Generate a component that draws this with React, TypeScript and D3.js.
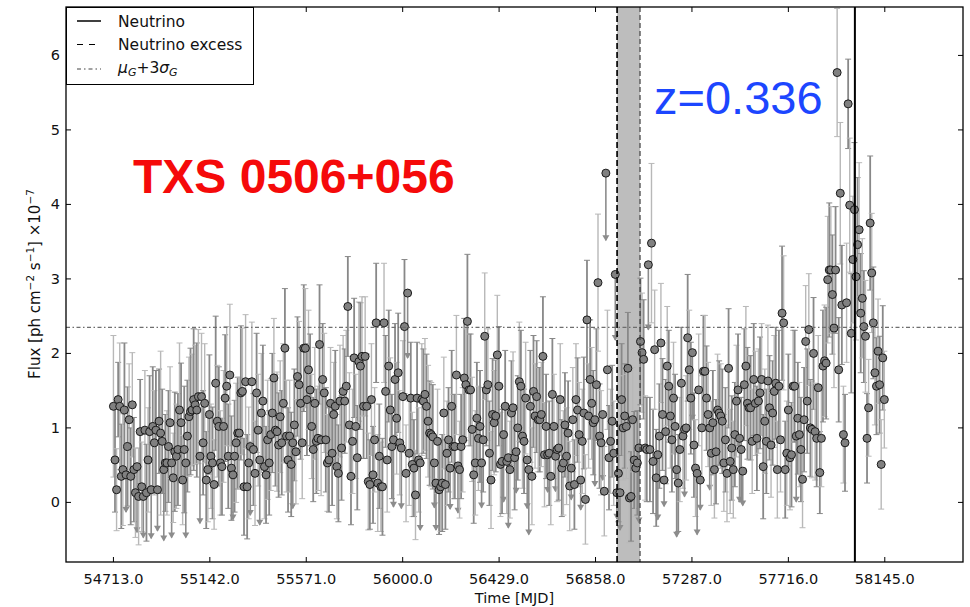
import React from "react";
import * as d3 from "d3";

const W = 970;
const H = 607;
const frame = { left: 66, right: 963, top: 7, bottom: 562 };

// weekly Fermi-LAT bins, first bin centre at MJD 54713
const startMJD = 54713;
const binDays = 7;

// flux in units of 1e-7 ph cm^-2 s^-1, one value per weekly bin
const flux = [
  1.29, 0.57, 0.17, 1.38, 1.29, 0.35, 0.44, 1.24, 0.37, 0.75, 1.11, 0.35, 1.31, 0.44, 0.13, 0.48, 0.08, 0.95, 0.21, 0.08,
  0.97, 0.13, 0.57, 0.95, 0.17, 1.02, 0.8, 0.97, 0.17, 1.09, 0.93, 0.82, 0.44, 0.53, 0.53, 0.75, 1.07, 0.53, 0.33, 0.68,
  0.62, 0.71, 1.24, 1.07, 0.3, 0.71, 0.53, 0.89, 1.15, 1.22, 1.24, 1.38, 1.31, 1.24, 1.42, 0.62, 1.42, 0.8, 1.33, 0.3,
  0.44, 1.18, 0.62, 0.53, 0.24, 1.6, 1.09, 1.02, 0.53, 0.48, 1.02, 1.4, 1.56, 0.62, 1.71, 0.46, 0.37, 0.62, 0.8, 0.93,
  0.93, 1.47, 1.49, 0.21, 1.62, 0.21, 0.53, 0.75, 1.62, 0.71, 0.39, 1.47, 0.97, 0.57, 1.2, 1.36, 0.48, 0.37, 0.84, 0.53,
  0.91, 1.2, 1.67, 0.97, 0.95, 0.77, 1.15, 0.8, 1.33, 2.07, 0.89, 0.57, 0.89, 0.51, 0.8, 1.04, 0.68, 1.69, 1.58, 1.33,
  0.8, 2.07, 2.07, 1.38, 1.78, 1.51, 1.02, 0.71, 1.33, 0.82, 0.86, 2.12, 0.84, 1.65, 1.47, 0.84, 0.53, 0.57, 1.33, 0.66,
  1.18, 1.29, 0.48, 0.39, 1.36, 0.73, 1.49, 1.36, 1.56, 2.63, 1.04, 0.35, 0.82, 1.94, 1.02, 0.6, 1.89, 1.83, 1.96, 1.29,
  1.96, 1.29, 0.28, 0.24, 1.38, 0.37, 0.84, 2.41, 0.26, 0.62, 0.21, 0.21, 2.41, 1.49, 0.57, 1.83, 1.24, 0.75, 0.84, 1.65,
  1.13, 1.74, 0.8, 0.73, 1.42, 2.36, 0.39, 2.81, 0.66, 1.4, 0.51, 0.46, 0.1, 1.4, 0.57, 0.53, 1.38, 1.36, 1.45, 1.29,
  1.09, 0.93, 0.91, 0.88, 0.53, 0.26, 0.82, 0.17, 0.21, 0.26, 1.2, 0.24, 0.66, 0.84, 0.46, 1.29, 0.75, 0.75, 1.71, 0.49,
  0.44, 0.75, 0.84, 1.67, 1.58, 2.43, 1.51, 1.51, 0.98, 0.37, 0.53, 1.13, 0.86, 1.02, 0.53, 0.84, 2.23, 1.51, 1.58, 0.66,
  0.3, 1.18, 1.07, 1.16, 1.98, 1.56, 0.51, 0.55, 0.91, 1.29, 0.55, 0.6, 0.44, 1.2, 1.27, 0.6, 0.68, 1.0, 1.62, 1.56,
  0.89, 0.82, 1.4, 0.57, 0.44, 1.29, 0.35, 1.49, 1.16, 1.42, 1.11, 1.11, 1.18, 1.96, 0.64, 1.02, 0.64, 0.66, 0.35, 1.45,
  1.02, 0.62, 0.71, 0.73, 1.38, 0.46, 0.53, 1.04, 0.62, 0.93, 0.22, 0.46, 1.11, 0.24, 1.38, 1.24, 0.91, 0.3, 0.82, 1.2,
  0.04, 2.45, 1.16, 1.65, 1.33, 1.07, 1.11, 1.58, 2.95, 0.89, 0.8, 1.18, 0.15, 4.42, 1.78, 0.6, 0.82, 1.09, 0.66, 3.06,
  0.13, 0.39, 0.13, 1.38, 1.0, 1.16, 1.02, 1.8, 0.06, 0.08, 1.11, 0.57, 0.46, 0.53, 0.73, 2.16, 2.01, 1.92, 0.73, 0.71,
  3.19, 0.71, 3.48, 0.55, 2.05, 0.33, 0.64, 0.89, 2.14, 1.18, 0.3, 0.95, 1.83, 1.56, 1.16, 0.84, 1.4, 1.02, 0.44, 0.26,
  0.71, 1.6, 0.89, 0.98, 1.0, 2.21, 1.78, 1.4, 2.01, 0.77, 0.46, 0.39, 1.51, 0.3, 1.0, 1.76, 1.76, 1.4, 1.18, 1.0,
  0.66, 1.07, 0.44, 0.68, 1.24, 1.2, 1.16, 1.09, 0.53, 0.84, 0.39, 1.8, 0.55, 0.73, 0.44, 0.91, 1.36, 1.51, 0.86, 0.71,
  0.42, 1.58, 1.83, 1.33, 1.27, 1.27, 0.82, 1.65, 1.33, 0.86, 1.36, 1.47, 1.65, 0.48, 1.09, 0.82, 1.63, 1.27, 0.77, 1.2,
  1.49, 1.6, 0.44, 1.56, 0.84, 2.54, 2.41, 0.44, 0.66, 1.24, 0.6, 0.64, 1.56, 1.56, 0.89, 1.13, 0.91, 0.71, 0.31, 1.11,
  2.16, 1.36, 2.32, 1.0, 0.98, 2.0, 0.95, 0.86, 1.54, 0.4, 0.86, 1.83, 1.9, 1.87, 2.99, 3.12, 3.12, 2.79, 2.34, 3.12,
  5.77, 1.78, 4.15, 2.65, 0.91, 0.8, 2.68, 5.35, 3.99, 2.27, 3.26, 3.93, 3.03, 3.46, 3.66, 2.54, 2.74, 2.36, 2.23, 0.86,
  1.27, 3.75, 3.08, 2.41, 1.74, 1.56, 2.03, 1.58, 0.51, 1.94, 1.38,
];

// 1-sigma error on each flux (same order)
const fluxErr = [
  0.95, 0.7, 0.55, 0.5, 0.85, 0.7, 0.75, 0.9, 0.5, 0.8, 0.75, 0.65, 0.7, 0.7, 0.6, 0.88, 0.65, 0.7, 0.6, 0.55,
  0.8, 0.65, 0.7, 0.75, 0.65, 0.8, 0.7, 0.8, 0.55, 0.7, 1.1, 0.7, 0.95, 0.65, 0.7, 0.75, 0.75, 1.0, 0.6, 0.8,
  0.7, 0.75, 0.9, 0.8, 0.6, 0.85, 1.0, 0.75, 0.8, 0.85, 0.75, 0.95, 0.8, 0.9, 0.9, 0.9, 0.85, 0.7, 0.8, 0.65,
  0.7, 0.8, 0.7, 0.75, 0.6, 0.9, 0.75, 0.8, 0.7, 0.65, 0.75, 0.85, 0.8, 0.7, 0.95, 0.7, 0.6, 0.75, 0.8, 0.75,
  0.75, 0.9, 0.85, 0.65, 0.9, 0.7, 0.75, 0.92, 0.8, 0.75, 0.7, 0.8, 0.75, 0.87, 0.8, 0.75, 0.7, 0.65, 0.8, 0.7,
  0.75, 0.8, 0.8, 0.75, 0.8, 0.7, 0.75, 0.7, 0.8, 0.8, 0.75, 0.7, 0.75, 0.7, 0.88, 0.75, 0.7, 0.8, 0.85, 0.75,
  0.75, 0.85, 0.8, 0.75, 0.8, 0.75, 0.7, 0.7, 0.75, 0.7, 0.7, 0.8, 0.75, 0.75, 0.8, 0.7, 0.65, 0.7, 0.75, 0.7,
  0.7, 0.75, 0.7, 0.65, 0.75, 0.7, 0.75, 0.7, 0.75, 0.67, 0.7, 0.65, 0.7, 0.8, 0.7, 0.7, 0.8, 0.85, 0.8, 0.7,
  0.8, 0.7, 0.65, 0.6, 0.75, 0.65, 0.7, 0.8, 0.65, 0.7, 0.6, 0.65, 0.8, 0.75, 0.7, 0.75, 0.7, 0.7, 0.9, 0.75,
  0.75, 0.8, 0.7, 0.81, 0.75, 0.9, 0.65, 0.87, 0.7, 0.75, 0.7, 0.65, 0.6, 0.75, 0.7, 0.9, 0.75, 0.7, 0.75, 0.7,
  0.75, 0.7, 0.7, 0.7, 0.6, 0.63, 0.7, 0.6, 0.6, 0.65, 0.75, 0.6, 0.7, 0.7, 0.55, 0.75, 0.7, 0.7, 0.8, 0.63,
  0.65, 0.7, 0.7, 0.8, 0.75, 0.9, 0.75, 0.75, 0.7, 0.65, 0.7, 0.75, 0.7, 0.75, 0.6, 0.7, 0.85, 0.75, 0.75, 0.7,
  0.65, 0.75, 0.7, 0.75, 0.8, 0.8, 0.7, 0.7, 0.9, 0.75, 0.7, 0.94, 0.65, 0.7, 0.75, 0.7, 0.55, 0.7, 0.8, 0.75,
  0.7, 0.7, 0.75, 0.65, 0.87, 0.75, 0.65, 0.75, 0.7, 0.75, 0.7, 0.7, 0.7, 0.8, 0.7, 0.7, 0.5, 0.7, 0.65, 0.75,
  0.7, 0.47, 0.7, 0.7, 0.75, 0.65, 0.7, 0.7, 0.65, 0.7, 0.6, 0.42, 0.7, 0.6, 0.75, 0.7, 0.7, 0.4, 0.7, 0.75,
  0.6, 0.8, 0.7, 0.8, 0.75, 0.7, 0.89, 0.75, 0.92, 0.7, 0.7, 0.88, 0.6, 0.9, 0.8, 0.7, 0.7, 0.75, 0.7, 0.88,
  0.35, 0.65, 0.5, 0.75, 0.7, 0.7, 0.7, 0.75, 0.6, 0.6, 0.7, 0.65, 0.65, 0.7, 1.0, 0.85, 0.8, 0.8, 0.7, 0.7,
  0.87, 0.7, 1.07, 0.7, 0.8, 0.65, 0.87, 0.7, 0.8, 0.75, 0.35, 0.7, 0.8, 0.75, 0.7, 0.7, 0.75, 0.7, 0.9, 0.65,
  0.7, 0.75, 0.7, 0.9, 0.7, 0.85, 0.8, 0.75, 0.9, 0.7, 0.65, 0.82, 0.75, 0.4, 0.7, 0.75, 0.75, 0.7, 0.7, 0.83,
  0.7, 0.7, 0.65, 0.7, 0.75, 0.7, 0.7, 0.7, 0.65, 0.7, 0.65, 0.8, 0.7, 0.7, 0.65, 0.7, 0.75, 0.75, 0.85, 0.7,
  0.46, 0.75, 0.8, 0.75, 0.7, 0.7, 0.7, 0.75, 0.7, 0.7, 0.7, 0.75, 0.75, 0.7, 0.7, 0.7, 0.75, 0.7, 0.7, 0.7,
  0.75, 0.75, 0.65, 0.75, 0.7, 0.9, 0.9, 0.65, 0.7, 0.75, 0.7, 0.7, 0.75, 0.75, 0.88, 0.75, 0.7, 0.7, 0.65, 0.7,
  0.75, 0.7, 0.75, 0.65, 0.65, 0.75, 0.65, 0.65, 0.7, 0.55, 0.65, 0.75, 0.75, 0.75, 0.85, 0.9, 0.85, 0.8, 0.8, 0.85,
  0.86, 0.7, 0.95, 0.8, 0.65, 0.65, 0.8, 0.6, 0.9, 0.8, 0.85, 0.9, 0.85, 0.9, 0.9, 0.8, 0.8, 0.75, 0.75, 0.6,
  0.65, 0.9, 0.8, 0.75, 0.7, 0.65, 0.7, 0.65, 0.6, 0.7, 0.65,
];

// bins drawn as upper limits (arrow pointing down)
const upperLimitIdx = [
  8, 15, 19, 24, 28, 32, 37, 46, 55, 76, 87, 93, 114, 178, 183, 187, 195, 204, 205, 214, 219, 234, 248, 251, 256,
  263, 264, 276, 281, 291, 297, 306, 311, 313, 319, 320, 322, 334, 340, 346, 350, 358, 363, 368, 371, 373, 379,
  398, 400, 434,
];

const xTicks = [54713, 55142, 55571, 56000, 56429, 56858, 57287, 57716, 58145];
const yTicks = [0, 1, 2, 3, 4, 5, 6];
const neutrinoMJD = 58012;
const excessStart = 56954;
const excessEnd = 57056;
const threshold = 2.35; // mu_G + 3 sigma_G

const font = "DejaVu Sans, sans-serif";

export default function App() {
  const x = d3.scaleLinear().domain([54502, 58493]).range([frame.left, frame.right]);
  const y = d3.scaleLinear().domain([-0.8, 6.65]).range([frame.bottom, frame.top]);

  const ulSet = new Set(upperLimitIdx);
  const pts = flux.map((f, i) => ({
    t: startMJD + binDays * i,
    f,
    e: fluxErr[i],
    ul: ulSet.has(i),
    dark: i % 2 === 1,
  }));

  const tickLen = 5;
  const capW = 3;

  return (
    <svg
      width={W}
      height={H}
      style={{ position: "absolute", left: 0, top: 0, background: "#fff" }}
      fontFamily={font}
    >
      {/* neutrino excess band */}
      <rect
        x={x(excessStart)}
        y={frame.top}
        width={x(excessEnd) - x(excessStart)}
        height={frame.bottom - frame.top}
        fill="#bdbdbd"
      />

      {/* error bars */}
      <g>
        {pts.map((p, i) => {
          const cx = x(p.t);
          const col = p.dark ? "#888888" : "#b8b8b8";
          if (p.ul) {
            const yb = y(p.f - p.e);
            return (
              <g key={i}>
                <line x1={cx} x2={cx} y1={y(p.f)} y2={yb} stroke="#8c8c8c" strokeWidth={1.6} />
                <path d={`M${cx - 3.5},${yb - 5}L${cx + 3.5},${yb - 5}L${cx},${yb + 1}Z`} fill="#8c8c8c" />
              </g>
            );
          }
          const y1 = y(p.f + p.e);
          const y2 = y(p.f - p.e);
          return (
            <g key={i} stroke={col}>
              <line x1={cx} x2={cx} y1={y1} y2={y2} strokeWidth={p.dark ? 1.8 : 1.4} />
              <line x1={cx - capW} x2={cx + capW} y1={y1} y2={y1} strokeWidth={1} />
              <line x1={cx - capW} x2={cx + capW} y1={y2} y2={y2} strokeWidth={1} />
            </g>
          );
        })}
      </g>

      {/* markers */}
      <g>
        {pts.map((p, i) => (
          <circle key={i} cx={x(p.t)} cy={y(p.f)} r={4} fill="#808080" stroke="#1a1a1a" strokeWidth={1} />
        ))}
      </g>

      {/* threshold line */}
      <line
        x1={frame.left}
        x2={frame.right}
        y1={y(threshold)}
        y2={y(threshold)}
        stroke="#6e6e6e"
        strokeWidth={1.2}
        strokeDasharray="4,2.5,1.5,2.5"
      />

      {/* neutrino excess edges */}
      <line x1={x(excessStart)} x2={x(excessStart)} y1={frame.top} y2={frame.bottom} stroke="#111" strokeWidth={1.8} strokeDasharray="6,3" />
      <line x1={x(excessEnd)} x2={x(excessEnd)} y1={frame.top} y2={frame.bottom} stroke="#333" strokeWidth={1.1} strokeDasharray="5,3" />

      {/* neutrino */}
      <line x1={x(neutrinoMJD)} x2={x(neutrinoMJD)} y1={frame.top} y2={frame.bottom} stroke="#000" strokeWidth={2} />

      {/* frame */}
      <rect
        x={frame.left}
        y={frame.top}
        width={frame.right - frame.left}
        height={frame.bottom - frame.top}
        fill="none"
        stroke="#000"
        strokeWidth={1.3}
      />

      {/* x ticks */}
      {xTicks.map((t) => (
        <g key={t}>
          <line x1={x(t)} x2={x(t)} y1={frame.bottom} y2={frame.bottom - tickLen} stroke="#000" />
          <line x1={x(t)} x2={x(t)} y1={frame.top} y2={frame.top + tickLen} stroke="#000" />
          <text x={x(t)} y={584} fontSize={14.5} textAnchor="middle" fill="#111">
            {d3.format(".1f")(t)}
          </text>
        </g>
      ))}

      {/* y ticks */}
      {yTicks.map((t) => (
        <g key={t}>
          <line x1={frame.left} x2={frame.left + tickLen} y1={y(t)} y2={y(t)} stroke="#000" />
          <line x1={frame.right} x2={frame.right - tickLen} y1={y(t)} y2={y(t)} stroke="#000" />
          <text x={60} y={y(t)} dy="0.35em" fontSize={14.5} textAnchor="end" fill="#111">
            {t}
          </text>
        </g>
      ))}

      {/* axis labels */}
      <text x={(frame.left + frame.right) / 2} y={603} fontSize={14.5} textAnchor="middle" fill="#111">
        Time [MJD]
      </text>
      <text transform="translate(40,284) rotate(-90)" fontSize={15} textAnchor="middle" fill="#111">
        Flux [ph cm<tspan fontSize={10.5} dy={-6}>−2</tspan>
        <tspan dy={6}> s</tspan>
        <tspan fontSize={10.5} dy={-6}>−1</tspan>
        <tspan dy={6}>] ×10</tspan>
        <tspan fontSize={10.5} dy={-6}>−7</tspan>
      </text>

      {/* legend */}
      <g>
        <rect x={66.5} y={7.5} width={187} height={77} fill="#fff" stroke="#000" strokeWidth={1} />
        <line x1={77} x2={101} y1={21} y2={21} stroke="#000" strokeWidth={1.5} />
        <line x1={77} x2={101} y1={44.5} y2={44.5} stroke="#000" strokeWidth={1.2} strokeDasharray="6,6" />
        <line x1={77} x2={101} y1={69} y2={69} stroke="#444" strokeWidth={1.2} strokeDasharray="4,3,1.5,3" />
        <text x={118} y={26.5} fontSize={15.5} fill="#111">Neutrino</text>
        <text x={118} y={50} fontSize={15.5} fill="#111">Neutrino excess</text>
        <text x={118} y={73} fontSize={15.5} fill="#111">
          <tspan fontStyle="italic">μ</tspan>
          <tspan fontStyle="italic" fontSize={11} dy={3}>G</tspan>
          <tspan dy={-3}>+3</tspan>
          <tspan fontStyle="italic">σ</tspan>
          <tspan fontStyle="italic" fontSize={11} dy={3}>G</tspan>
        </text>
      </g>

      {/* annotations */}
      <text x={133} y={193} fontFamily="Liberation Sans, Arial, sans-serif" fontWeight="bold" fontSize={48} fill="#f50a0a">
        TXS 0506+056
      </text>
      <text x={654} y={114} fontFamily="Liberation Sans, Arial, sans-serif" fontSize={47} fill="#1c46ff">
        z=0.336
      </text>
    </svg>
  );
}
